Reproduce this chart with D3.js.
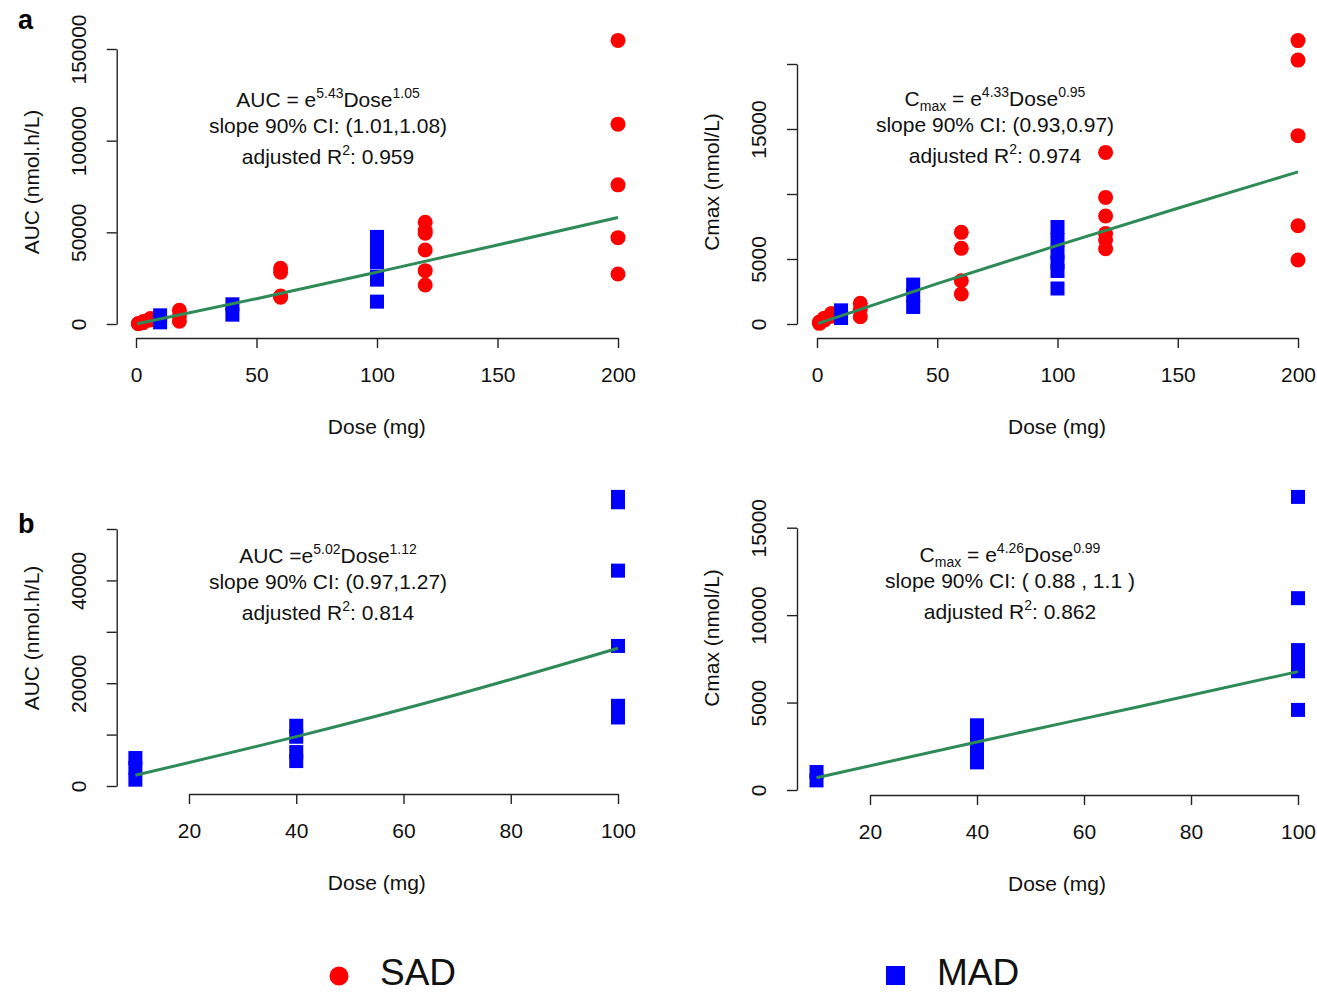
<!DOCTYPE html>
<html>
<head>
<meta charset="utf-8">
<script src="https://cdn.jsdelivr.net/npm/d3@7"></script>
<style>
  body { margin: 0; background: #fff; }
  svg { display: block; font-family: "Liberation Sans", Arial, sans-serif; }
  text { white-space: pre; }
</style>
</head>
<body>
<div id="chart"></div>
<script>
/*
  Dose proportionality plots: AUC and Cmax vs dose, SAD (red) and MAD (blue)
*/

// panel a, AUC
var sadAucDose = [1, 1, 3, 3, 6, 6, 18, 18, 18, 60, 60, 60, 60,
                  120, 120, 120, 120, 120, 120, 200, 200, 200, 200, 200];
var sadAuc = [150, 300, 700, 1300, 2200, 3000, 7500, 4200, 1500, 30400, 28200, 15300, 14600,
              55500, 51000, 49500, 40400, 29100, 21300, 154700, 109000, 75900, 47100, 27300];
var madAucDose = [10, 10, 40, 40, 100, 100, 100, 100, 100, 100];
var madAuc = [4730, 910, 10740, 5100, 47500, 40400, 33700, 25800, 24200, 12200];
var fitAucDose = [0.5, 50, 100, 150, 200];
var fitAuc = [100, 13800, 28300, 43100, 58100];

// panel a, Cmax
var sadCmaxDose = [1, 1, 3, 3, 6, 6, 18, 18, 18, 60, 60, 60, 60,
                   120, 120, 120, 120, 120, 120, 200, 200, 200, 200, 200];
var sadCmax = [50, 150, 300, 450, 600, 800, 1590, 1130, 560, 7050, 5820, 3330, 2310,
               13200, 9740, 8310, 6970, 6460, 5790, 21800, 20300, 14490, 7560, 4920];
var madCmaxDose = [10, 10, 40, 40, 40, 100, 100, 100, 100, 100, 100];
var madCmax = [1050, 460, 3030, 2210, 1310, 7460, 6460, 5500, 4760, 4080, 2730];
var fitCmaxDose = [0.5, 50, 100, 150, 200];
var fitCmax = [40, 3100, 6050, 8900, 11700];

// panel b, AUC (MAD only)
var madAucDoseB = [10, 10, 10, 40, 40, 40, 40, 100, 100, 100, 100, 100, 100];
var madAucB = [5440, 3500, 1230, 11720, 9580, 6600, 4850, 56250, 55200, 41900, 27250, 15600, 13330];
var fitAucDoseB = [10, 40, 70, 100];
var fitAucB = [2100, 9600, 17800, 26800];

// panel b, Cmax (MAD only)
var madCmaxDoseB = [10, 10, 40, 40, 40, 40, 100, 100, 100, 100, 100, 100];
var madCmaxB = [1030, 550, 3700, 2960, 2290, 1580, 16760, 10970, 8000, 7250, 6790, 4580];
var fitCmaxDoseB = [10, 40, 70, 100];
var fitCmaxB = [700, 2750, 4750, 6770];

var doseTicksA = [0, 50, 100, 150, 200];
var doseTicksB = [20, 40, 60, 80, 100];

var legendLabels = ["SAD", "MAD"];

var RED = "#ff0000", BLUE = "#0000ff", GREEN = "#2e8b57";
var FONT = 21;

var svg = d3.select("#chart").append("svg")
    .attr("width", 1317)
    .attr("height", 994);

function zip(a, b) {
  return a.map(function(d, i) { return [d, b[i]]; });
}

var panels = [
  { xDomain: [0, 200], xRange: [136, 618], yDomain: [0, 150000], yRange: [324, 49],
    xTicks: doseTicksA, yTicks: [0, 50000, 100000, 150000], yLabeled: [0, 50000, 100000, 150000],
    xAxisY: 338, yAxisX: 116.7, rightX: 637, yTitle: "AUC (nmol.h/L)", yTitleY: 182,
    red: zip(sadAucDose, sadAuc), blue: zip(madAucDose, madAuc), fit: zip(fitAucDose, fitAuc),
    ann: { x: 328, y: 107, lines: [
      [["AUC = e"], ["5.43", "sup"], ["Dose"], ["1.05", "sup"]],
      [["slope 90% CI: (1.01,1.08)"]],
      [["adjusted R"], ["2", "sup"], [": 0.959"]] ] } },
  { xDomain: [0, 200], xRange: [817, 1298], yDomain: [0, 20000], yRange: [324, 64],
    xTicks: doseTicksA, yTicks: [0, 5000, 10000, 15000, 20000], yLabeled: [0, 5000, 15000],
    xAxisY: 338, yAxisX: 797, rightX: 1317, yTitle: "Cmax (nmol/L)", yTitleY: 182,
    red: zip(sadCmaxDose, sadCmax), blue: zip(madCmaxDose, madCmax), fit: zip(fitCmaxDose, fitCmax),
    ann: { x: 995, y: 106, lines: [
      [["C"], ["max", "sub"], [" = e"], ["4.33", "sup"], ["Dose"], ["0.95", "sup"]],
      [["slope 90% CI: (0.93,0.97)"]],
      [["adjusted R"], ["2", "sup"], [": 0.974"]] ] } },
  { xDomain: [20, 100], xRange: [189, 618], yDomain: [0, 50000], yRange: [786, 529],
    xTicks: doseTicksB, yTicks: [0, 10000, 20000, 30000, 40000, 50000], yLabeled: [0, 20000, 40000],
    xAxisY: 794, yAxisX: 116.7, rightX: 637, yTitle: "AUC (nmol.h/L)", yTitleY: 638,
    red: [], blue: zip(madAucDoseB, madAucB), fit: zip(fitAucDoseB, fitAucB),
    ann: { x: 328, y: 563, lines: [
      [["AUC =e"], ["5.02", "sup"], ["Dose"], ["1.12", "sup"]],
      [["slope 90% CI: (0.97,1.27)"]],
      [["adjusted R"], ["2", "sup"], [": 0.814"]] ] } },
  { xDomain: [20, 100], xRange: [870, 1298], yDomain: [0, 15000], yRange: [790, 527.7],
    xTicks: doseTicksB, yTicks: [0, 5000, 10000, 15000], yLabeled: [0, 5000, 10000, 15000],
    xAxisY: 795, yAxisX: 797, rightX: 1317, yTitle: "Cmax (nmol/L)", yTitleY: 638,
    red: [], blue: zip(madCmaxDoseB, madCmaxB), fit: zip(fitCmaxDoseB, fitCmaxB),
    ann: { x: 1010, y: 562, lines: [
      [["C"], ["max", "sub"], [" = e"], ["4.26", "sup"], ["Dose"], ["0.99", "sup"]],
      [["slope 90% CI: ( 0.88 , 1.1 )"]],
      [["adjusted R"], ["2", "sup"], [": 0.862"]] ] } }
];

var lineGaps = [0, 26, 57];
var shifts = { sup: -9, sub: 5 };

panels.forEach(function(p) {
  var x = d3.scaleLinear().domain(p.xDomain).range(p.xRange);
  var y = d3.scaleLinear().domain(p.yDomain).range(p.yRange);
  var g = svg.append("g");

  //draw x-axis
  g.append("g")
      .attr("transform", "translate(0," + p.xAxisY + ")")
      .call(d3.axisBottom(x).tickValues(p.xTicks).tickSize(10).tickSizeOuter(0))
      .call(function(a) {
        a.attr("font-family", null).attr("font-size", null);
        a.select(".domain").attr("stroke", "#222").attr("stroke-width", 1.4);
        a.selectAll(".tick line").attr("stroke", "#222").attr("stroke-width", 1.4);
        a.selectAll(".tick text").attr("y", 37).attr("dy", "0.35em")
            .attr("fill", "#111").style("font-size", FONT + "px");
      });

  //draw y-axis, labels parallel to the axis
  var yAxis = d3.axisLeft(y).tickValues(p.yTicks).tickSize(10).tickSizeOuter(0)
      .tickFormat(function(d) { return p.yLabeled.indexOf(d) >= 0 ? d : ""; });
  g.append("g")
      .attr("transform", "translate(" + p.yAxisX + ",0)")
      .call(yAxis)
      .call(function(a) {
        a.attr("font-family", null).attr("font-size", null);
        a.select(".domain").attr("stroke", "#222").attr("stroke-width", 1.4);
        a.selectAll(".tick line").attr("stroke", "#222").attr("stroke-width", 1.4);
        a.selectAll(".tick text")
            .attr("transform", "rotate(-90)")
            .attr("x", 0).attr("y", -38.5).attr("dy", "0.35em")
            .attr("text-anchor", "middle")
            .attr("fill", "#111").style("font-size", FONT + "px");
      });

  // axis titles
  g.append("text")
      .attr("x", (p.yAxisX + p.rightX) / 2)
      .attr("y", p.xAxisY + 89)
      .attr("dy", "0.35em")
      .attr("text-anchor", "middle")
      .attr("fill", "#111")
      .style("font-size", FONT + "px")
      .text("Dose (mg)");

  g.append("text")
      .attr("transform", "translate(" + (p.yAxisX - 85) + "," + p.yTitleY + ") rotate(-90)")
      .attr("dy", "0.35em")
      .attr("text-anchor", "middle")
      .attr("fill", "#111")
      .style("font-size", FONT + "px")
      .text(p.yTitle);

  // points
  g.selectAll("circle.sad").data(p.red).enter().append("circle")
      .attr("class", "sad")
      .attr("cx", function(d) { return x(d[0]); })
      .attr("cy", function(d) { return y(d[1]); })
      .attr("r", 7.5)
      .attr("fill", RED);

  g.selectAll("rect.mad").data(p.blue).enter().append("rect")
      .attr("class", "mad")
      .attr("x", function(d) { return x(d[0]) - 7; })
      .attr("y", function(d) { return y(d[1]) - 7; })
      .attr("width", 14)
      .attr("height", 14)
      .attr("fill", BLUE);

  // fitted power model
  var fitLine = d3.line()
      .x(function(d) { return x(d[0]); })
      .y(function(d) { return y(d[1]); })
      .curve(d3.curveMonotoneX);

  g.append("path")
      .datum(p.fit)
      .attr("d", fitLine)
      .attr("fill", "none")
      .attr("stroke", GREEN)
      .attr("stroke-width", 3);

  // model annotation, with super/subscripts
  p.ann.lines.forEach(function(parts, i) {
    var t = g.append("text")
        .attr("x", p.ann.x)
        .attr("y", p.ann.y + lineGaps[i])
        .attr("text-anchor", "middle")
        .attr("fill", "#111")
        .style("font-size", FONT + "px");
    var level = 0;
    parts.forEach(function(part) {
      var target = part[1] ? shifts[part[1]] : 0;
      var s = t.append("tspan").text(part[0]);
      if (target !== level) s.attr("dy", target - level);
      if (part[1]) s.style("font-size", "14px");
      level = target;
    });
  });
});

// panel letters
svg.append("text").attr("x", 18).attr("y", 29)
    .style("font-size", "27px").style("font-weight", "bold").text("a");
svg.append("text").attr("x", 18).attr("y", 533)
    .style("font-size", "27px").style("font-weight", "bold").text("b");

// legend
var legend = svg.append("g");
legend.append("circle").attr("cx", 339).attr("cy", 976).attr("r", 9.5).attr("fill", RED);
legend.append("text").attr("x", 380).attr("y", 985)
    .style("font-size", "37px").attr("fill", "#111").text(legendLabels[0]);
legend.append("rect").attr("x", 886).attr("y", 966).attr("width", 19).attr("height", 19).attr("fill", BLUE);
legend.append("text").attr("x", 937).attr("y", 985)
    .style("font-size", "37px").attr("fill", "#111").text(legendLabels[1]);
</script>
</body>
</html>
